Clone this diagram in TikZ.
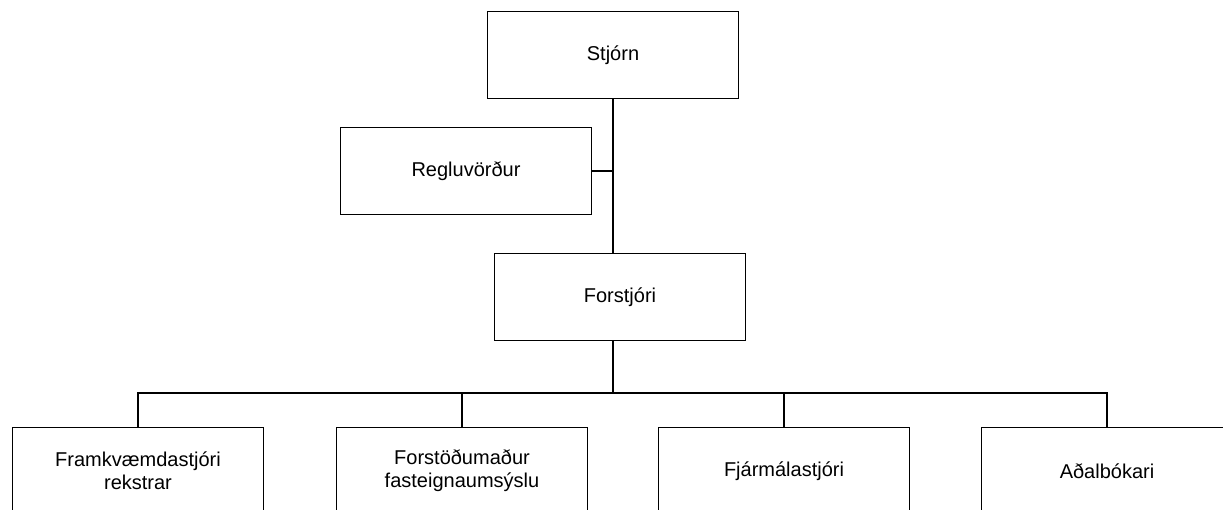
\documentclass[tikz,border=0pt]{standalone}
\usepackage{fontspec}
\setmainfont{Liberation Sans}
\usetikzlibrary{calc}

\begin{document}
\begin{tikzpicture}[x=1pt,y=-1pt,
    unit/.style={draw,line width=1.8pt,minimum width=251pt,minimum height=87pt,inner sep=0pt,align=center,font=\fontsize{20}{23}\selectfont},
    conn/.style={line width=1.6pt,black}]
    \useasboundingbox (0,0) rectangle (1223,510);
    \clip (0,0) rectangle (1223,510);

    \node[unit] (stjorn) at (613,55) {Stjórn};
    \node[unit] (regla) at (466,171) {Regluvörður};
    \node[unit] (forstjori) at (620,297) {Forstjóri};

    \node[unit] (rekstur) at (138,471) {Framkvæmdastjóri\\rekstrar};
    \node[unit] (fasteign) at (462,471) {Forstöðumaður\\fasteignaumsýslu};
    \node[unit] (fjarmal) at (784,471) {Fjármálastjóri};
    \node[unit] (bokari) at (1107,471) {Aðalbókari};

    \coordinate (hub) at (613,393);

    \draw[conn] (stjorn.south) -- (stjorn.south |- forstjori.north);
    \draw[conn] (regla.east) -- (regla.east -| stjorn.south);
    \draw[conn] (stjorn.south |- forstjori.south) -- (hub);
    \foreach \n in {rekstur,fasteign,fjarmal,bokari}
      \draw[conn] (hub) -| (\n.north);
\end{tikzpicture}
\end{document}
